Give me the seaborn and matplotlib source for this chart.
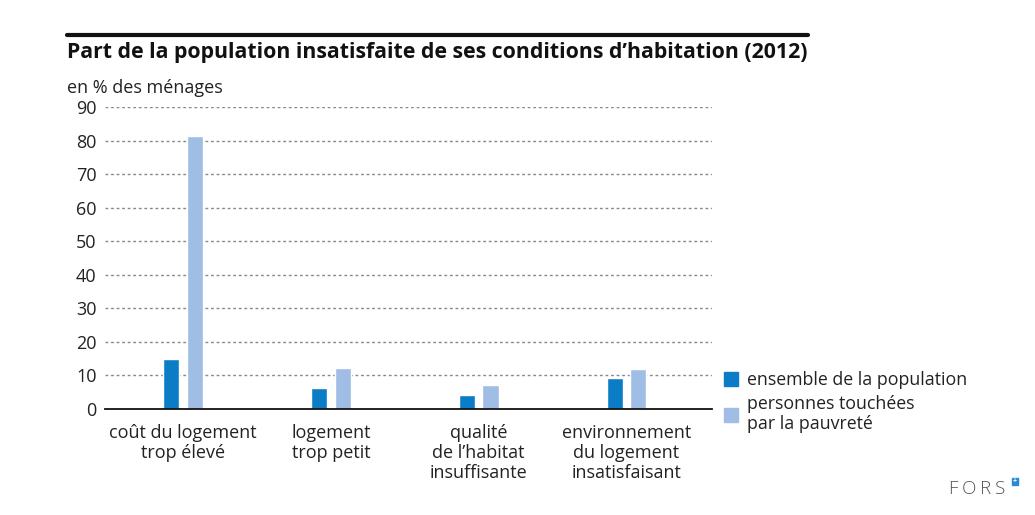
import matplotlib.pyplot as plt
import matplotlib.patches as mpatches
import pandas as pd
import seaborn as sns


# --------------------------------------------------
# Data
# --------------------------------------------------

categories = [
    "coût du logement\ntrop élevé",
    "logement\ntrop petit",
    "qualité\nde l’habitat\ninsuffisante",
    "environnement\ndu logement\ninsatisfaisant",
]

series_names = [
    "ensemble de la population",
    "personnes touchées\npar la pauvreté",
]

ensemble_values = [15.0, 6.2, 4.2, 9.2]
pauvrete_values = [81.5, 12.1, 7.1, 11.9]

y_ticks = [0, 10, 20, 30, 40, 50, 60, 70, 80, 90]

colors = ["#0b7cc6", "#a0bde6"]

df = pd.DataFrame({
    "categorie": categories * 2,
    "serie": [series_names[0]] * 4 + [series_names[1]] * 4,
    "valeur": ensemble_values + pauvrete_values,
})


# --------------------------------------------------
# Figure
# --------------------------------------------------

sns.set_style("white")
plt.rcParams["font.family"] = ["Open Sans", "DejaVu Sans"]

fig = plt.figure(figsize=(10.35, 5.15), dpi=100)

ax = fig.add_axes([0.1014, 0.2058, 0.5866, 0.5864])

sns.barplot(
    data=df,
    x="categorie",
    y="valeur",
    hue="serie",
    palette=colors,
    saturation=1,
    width=0.32,
    gap=0.32,
    legend=False,
    ax=ax,
)

ax.set_xlim(-0.53, 3.58)
ax.set_ylim(0, 90)
ax.set_yticks(y_ticks)
ax.set_yticklabels([str(t) for t in y_ticks], fontsize=13, color="#222222")
ax.set_xticks(range(len(categories)))
ax.set_xticklabels(categories, fontsize=13, color="#222222", linespacing=1.15)
ax.tick_params(axis="y", length=0, pad=6)
ax.tick_params(axis="x", length=0, pad=11)
ax.set_xlabel("")
ax.set_ylabel("")

for t in y_ticks[1:]:
    ax.axhline(t, color="#888888", linestyle=(0, (2, 2)), linewidth=1.0, zorder=0)

for side in ["top", "right", "left"]:
    ax.spines[side].set_visible(False)
ax.spines["bottom"].set_color("#111111")
ax.spines["bottom"].set_linewidth(1.3)


# --------------------------------------------------
# Title, unit, rule
# --------------------------------------------------

fig.add_artist(plt.Line2D([0.0647, 0.7807], [0.932, 0.932], color="#111111", linewidth=3))

fig.text(0.0647, 0.899, "Part de la population insatisfaite de ses conditions d’habitation (2012)",
         fontsize=15.3, fontweight="bold", color="#111111", va="center", ha="left")

fig.text(0.0647, 0.829, "en % des ménages", fontsize=13, color="#222222", va="center", ha="left")


# --------------------------------------------------
# Legend
# --------------------------------------------------

handles = [mpatches.Patch(color=c, label=n) for c, n in zip(colors, series_names)]
fig.legend(
    handles=handles,
    loc="upper left",
    bbox_to_anchor=(0.684, 0.31),
    frameon=False,
    fontsize=12.8,
    handlelength=0.8,
    handleheight=0.8,
    handletextpad=0.5,
    labelspacing=0.3,
    labelcolor="#222222",
)


# --------------------------------------------------
# FORS mark
# --------------------------------------------------

fig.text(0.971, 0.05, "F\u2009O\u2009R\u2009S", fontsize=13.5, color="#555555", ha="right",
         va="center", fontweight="light")
fig.add_artist(mpatches.Rectangle((0.9775, 0.058), 0.0065, 0.013, transform=fig.transFigure,
                                  color="#2a8ad4"))
fig.text(0.9808, 0.0645, "+", fontsize=5, color="white", ha="center", va="center",
         fontweight="bold")

plt.savefig("out.png", dpi=100)
plt.close()
